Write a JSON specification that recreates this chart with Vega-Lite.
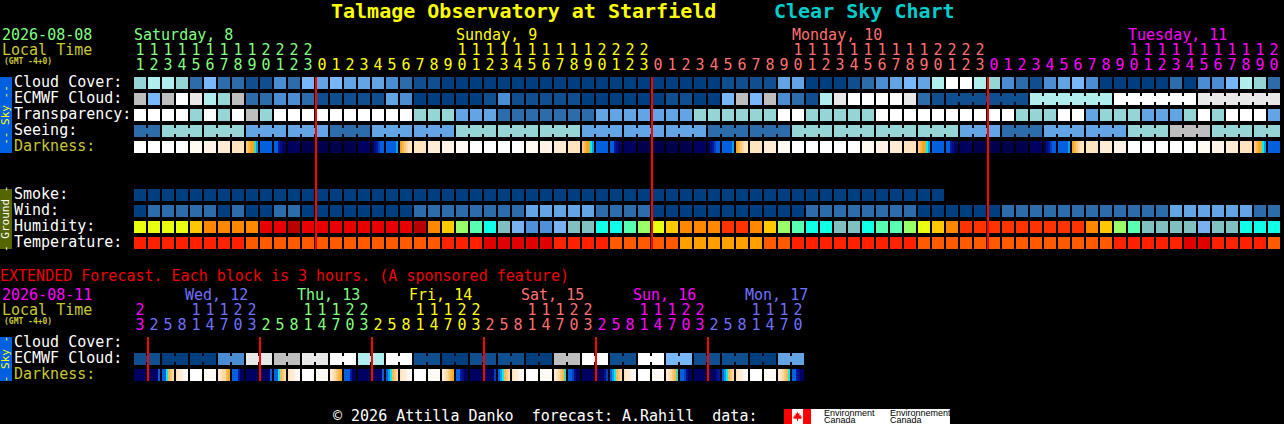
{
"$schema":"https://vega.github.io/schema/vega-lite/v6.json",
"background":"#000000",
"width":1146,"height":424,
"autosize":{"type":"none"},
"padding":{"left":134,"top":0,"right":4,"bottom":0},
"config":{"view":{"stroke":null},"axis":{"disable":true},"legend":{"disable":true},"text":{"font":"DejaVu Sans Mono","fontSize":15,"baseline":"middle"}},
"datasets":{
"cells":[
{"row":"cloud","col":0,"level":"c6"},{"row":"cloud","col":1,"level":"c7"},{"row":"cloud","col":2,"level":"c7"},{"row":"cloud","col":3,"level":"c6"},{"row":"cloud","col":4,"level":"c2"},{"row":"cloud","col":5,"level":"c5"},{"row":"cloud","col":6,"level":"c2"},{"row":"cloud","col":7,"level":"c2"},{"row":"cloud","col":8,"level":"c1"},{"row":"cloud","col":9,"level":"c1"},{"row":"cloud","col":10,"level":"c3"},{"row":"cloud","col":11,"level":"c2"},{"row":"cloud","col":12,"level":"c5"},{"row":"cloud","col":13,"level":"c4"},{"row":"cloud","col":14,"level":"c5"},{"row":"cloud","col":15,"level":"c4"},{"row":"cloud","col":16,"level":"c4"},{"row":"cloud","col":17,"level":"c4"},{"row":"cloud","col":18,"level":"c3"},{"row":"cloud","col":19,"level":"c2"},{"row":"cloud","col":20,"level":"c1"},{"row":"cloud","col":21,"level":"c1"},{"row":"cloud","col":22,"level":"c0"},{"row":"cloud","col":23,"level":"c0"},{"row":"cloud","col":24,"level":"c0"},{"row":"cloud","col":25,"level":"c0"},{"row":"cloud","col":26,"level":"c0"},{"row":"cloud","col":27,"level":"c0"},{"row":"cloud","col":28,"level":"c0"},{"row":"cloud","col":29,"level":"c0"},{"row":"cloud","col":30,"level":"c0"},{"row":"cloud","col":31,"level":"c0"},{"row":"cloud","col":32,"level":"c0"},{"row":"cloud","col":33,"level":"c0"},{"row":"cloud","col":34,"level":"c0"},{"row":"cloud","col":35,"level":"c0"},{"row":"cloud","col":36,"level":"c0"},{"row":"cloud","col":37,"level":"c0"},{"row":"cloud","col":38,"level":"c0"},{"row":"cloud","col":39,"level":"c0"},{"row":"cloud","col":40,"level":"c0"},{"row":"cloud","col":41,"level":"c0"},{"row":"cloud","col":42,"level":"c1"},{"row":"cloud","col":43,"level":"c1"},{"row":"cloud","col":44,"level":"c1"},{"row":"cloud","col":45,"level":"c1"},{"row":"cloud","col":46,"level":"c4"},{"row":"cloud","col":47,"level":"c4"},{"row":"cloud","col":48,"level":"c0"},{"row":"cloud","col":49,"level":"c0"},{"row":"cloud","col":50,"level":"c0"},{"row":"cloud","col":51,"level":"c1"},{"row":"cloud","col":52,"level":"c2"},{"row":"cloud","col":53,"level":"c3"},{"row":"cloud","col":54,"level":"c4"},{"row":"cloud","col":55,"level":"c5"},{"row":"cloud","col":56,"level":"c4"},{"row":"cloud","col":57,"level":"c7"},{"row":"cloud","col":58,"level":"c10"},{"row":"cloud","col":59,"level":"c10"},{"row":"cloud","col":60,"level":"c7"},{"row":"cloud","col":61,"level":"c6"},{"row":"cloud","col":62,"level":"c3"},{"row":"cloud","col":63,"level":"c2"},{"row":"cloud","col":64,"level":"c1"},{"row":"cloud","col":65,"level":"c3"},{"row":"cloud","col":66,"level":"c4"},{"row":"cloud","col":67,"level":"c5"},{"row":"cloud","col":68,"level":"c3"},{"row":"cloud","col":69,"level":"c0"},{"row":"cloud","col":70,"level":"c0"},{"row":"cloud","col":71,"level":"c0"},{"row":"cloud","col":72,"level":"c0"},{"row":"cloud","col":73,"level":"c0"},{"row":"cloud","col":74,"level":"c2"},{"row":"cloud","col":75,"level":"c0"},{"row":"cloud","col":76,"level":"c3"},{"row":"cloud","col":77,"level":"c3"},{"row":"cloud","col":78,"level":"c5"},{"row":"cloud","col":79,"level":"c7"},{"row":"cloud","col":80,"level":"c6"},{"row":"cloud","col":81,"level":"c2"},
{"row":"ecmwf","col":0,"level":"c8"},{"row":"ecmwf","col":1,"level":"c5"},{"row":"ecmwf","col":2,"level":"c8"},{"row":"ecmwf","col":3,"level":"c10"},{"row":"ecmwf","col":4,"level":"c9"},{"row":"ecmwf","col":5,"level":"c7"},{"row":"ecmwf","col":6,"level":"c6"},{"row":"ecmwf","col":7,"level":"c8"},{"row":"ecmwf","col":8,"level":"c2"},{"row":"ecmwf","col":9,"level":"c2"},{"row":"ecmwf","col":10,"level":"c3"},{"row":"ecmwf","col":11,"level":"c3"},{"row":"ecmwf","col":12,"level":"c2"},{"row":"ecmwf","col":13,"level":"c1"},{"row":"ecmwf","col":14,"level":"c1"},{"row":"ecmwf","col":15,"level":"c1"},{"row":"ecmwf","col":16,"level":"c1"},{"row":"ecmwf","col":17,"level":"c1"},{"row":"ecmwf","col":18,"level":"c4"},{"row":"ecmwf","col":19,"level":"c3"},{"row":"ecmwf","col":20,"level":"c0"},{"row":"ecmwf","col":21,"level":"c0"},{"row":"ecmwf","col":22,"level":"c0"},{"row":"ecmwf","col":23,"level":"c0"},{"row":"ecmwf","col":24,"level":"c0"},{"row":"ecmwf","col":25,"level":"c1"},{"row":"ecmwf","col":26,"level":"c3"},{"row":"ecmwf","col":27,"level":"c1"},{"row":"ecmwf","col":28,"level":"c1"},{"row":"ecmwf","col":29,"level":"c1"},{"row":"ecmwf","col":30,"level":"c1"},{"row":"ecmwf","col":31,"level":"c1"},{"row":"ecmwf","col":32,"level":"c0"},{"row":"ecmwf","col":33,"level":"c0"},{"row":"ecmwf","col":34,"level":"c0"},{"row":"ecmwf","col":35,"level":"c0"},{"row":"ecmwf","col":36,"level":"c0"},{"row":"ecmwf","col":37,"level":"c0"},{"row":"ecmwf","col":38,"level":"c1"},{"row":"ecmwf","col":39,"level":"c1"},{"row":"ecmwf","col":40,"level":"c0"},{"row":"ecmwf","col":41,"level":"c0"},{"row":"ecmwf","col":42,"level":"c5"},{"row":"ecmwf","col":43,"level":"c8"},{"row":"ecmwf","col":44,"level":"c5"},{"row":"ecmwf","col":45,"level":"c8"},{"row":"ecmwf","col":46,"level":"c3"},{"row":"ecmwf","col":47,"level":"c2"},{"row":"ecmwf","col":48,"level":"c1"},{"row":"ecmwf","col":49,"level":"c7"},{"row":"ecmwf","col":50,"level":"c9"},{"row":"ecmwf","col":51,"level":"c10"},{"row":"ecmwf","col":52,"level":"c10"},{"row":"ecmwf","col":53,"level":"c10"},{"row":"ecmwf","col":54,"level":"c10"},{"row":"ecmwf","col":55,"level":"c9"},{"row":"ecmwf","col":56,"level":"c2"},{"row":"ecmwf","col":57,"level":"c1"},{"row":"ecmwf","col":58,"level":"c1"},{"row":"ecmwf","col":59,"level":"c1"},{"row":"ecmwf","col":60,"level":"c1"},{"row":"ecmwf","col":61,"level":"c1"},{"row":"ecmwf","col":62,"level":"c1"},{"row":"ecmwf","col":63,"level":"c1"},{"row":"ecmwf","col":64,"level":"c7"},{"row":"ecmwf","col":65,"level":"c7"},{"row":"ecmwf","col":66,"level":"c7"},{"row":"ecmwf","col":67,"level":"c7"},{"row":"ecmwf","col":68,"level":"c7"},{"row":"ecmwf","col":69,"level":"c7"},{"row":"ecmwf","col":70,"level":"c10"},{"row":"ecmwf","col":71,"level":"c10"},{"row":"ecmwf","col":72,"level":"c10"},{"row":"ecmwf","col":73,"level":"c10"},{"row":"ecmwf","col":74,"level":"c10"},{"row":"ecmwf","col":75,"level":"c10"},{"row":"ecmwf","col":76,"level":"c9"},{"row":"ecmwf","col":77,"level":"c9"},{"row":"ecmwf","col":78,"level":"c9"},{"row":"ecmwf","col":79,"level":"c9"},{"row":"ecmwf","col":80,"level":"c9"},{"row":"ecmwf","col":81,"level":"c9"},
{"row":"transp","col":0,"level":"c10"},{"row":"transp","col":1,"level":"c10"},{"row":"transp","col":2,"level":"c10"},{"row":"transp","col":3,"level":"c10"},{"row":"transp","col":4,"level":"c6"},{"row":"transp","col":5,"level":"c10"},{"row":"transp","col":6,"level":"c6"},{"row":"transp","col":7,"level":"c10"},{"row":"transp","col":8,"level":"c8"},{"row":"transp","col":9,"level":"c6"},{"row":"transp","col":10,"level":"c10"},{"row":"transp","col":11,"level":"c10"},{"row":"transp","col":12,"level":"c10"},{"row":"transp","col":13,"level":"c10"},{"row":"transp","col":14,"level":"c10"},{"row":"transp","col":15,"level":"c10"},{"row":"transp","col":16,"level":"c10"},{"row":"transp","col":17,"level":"c10"},{"row":"transp","col":18,"level":"c10"},{"row":"transp","col":19,"level":"c10"},{"row":"transp","col":20,"level":"c6"},{"row":"transp","col":21,"level":"c6"},{"row":"transp","col":22,"level":"c6"},{"row":"transp","col":23,"level":"c4"},{"row":"transp","col":24,"level":"c4"},{"row":"transp","col":25,"level":"c4"},{"row":"transp","col":26,"level":"c2"},{"row":"transp","col":27,"level":"c2"},{"row":"transp","col":28,"level":"c2"},{"row":"transp","col":29,"level":"c2"},{"row":"transp","col":30,"level":"c2"},{"row":"transp","col":31,"level":"c2"},{"row":"transp","col":32,"level":"c2"},{"row":"transp","col":33,"level":"c4"},{"row":"transp","col":34,"level":"c4"},{"row":"transp","col":35,"level":"c4"},{"row":"transp","col":36,"level":"c4"},{"row":"transp","col":37,"level":"c4"},{"row":"transp","col":38,"level":"c4"},{"row":"transp","col":39,"level":"c4"},{"row":"transp","col":40,"level":"c6"},{"row":"transp","col":41,"level":"c6"},{"row":"transp","col":42,"level":"c6"},{"row":"transp","col":43,"level":"c6"},{"row":"transp","col":44,"level":"c6"},{"row":"transp","col":45,"level":"c6"},{"row":"transp","col":46,"level":"c10"},{"row":"transp","col":47,"level":"c10"},{"row":"transp","col":48,"level":"c6"},{"row":"transp","col":49,"level":"c6"},{"row":"transp","col":50,"level":"c6"},{"row":"transp","col":51,"level":"c6"},{"row":"transp","col":52,"level":"c6"},{"row":"transp","col":53,"level":"c10"},{"row":"transp","col":54,"level":"c10"},{"row":"transp","col":55,"level":"c10"},{"row":"transp","col":56,"level":"c10"},{"row":"transp","col":57,"level":"c10"},{"row":"transp","col":58,"level":"c10"},{"row":"transp","col":59,"level":"c10"},{"row":"transp","col":60,"level":"c10"},{"row":"transp","col":61,"level":"c10"},{"row":"transp","col":62,"level":"c10"},{"row":"transp","col":63,"level":"c6"},{"row":"transp","col":64,"level":"c6"},{"row":"transp","col":65,"level":"c6"},{"row":"transp","col":66,"level":"c10"},{"row":"transp","col":67,"level":"c10"},{"row":"transp","col":68,"level":"c4"},{"row":"transp","col":69,"level":"c6"},{"row":"transp","col":70,"level":"c6"},{"row":"transp","col":71,"level":"c6"},{"row":"transp","col":72,"level":"c4"},{"row":"transp","col":73,"level":"c4"},{"row":"transp","col":74,"level":"c4"},{"row":"transp","col":75,"level":"c6"},{"row":"transp","col":76,"level":"c10"},{"row":"transp","col":77,"level":"c6"},{"row":"transp","col":78,"level":"c10"},{"row":"transp","col":79,"level":"c10"},{"row":"transp","col":80,"level":"c10"},{"row":"transp","col":81,"level":"c4"},
{"row":"seeing","col":0,"level":"c2"},{"row":"seeing","col":1,"level":"c2"},{"row":"seeing","col":2,"level":"c6"},{"row":"seeing","col":3,"level":"c6"},{"row":"seeing","col":4,"level":"c6"},{"row":"seeing","col":5,"level":"c6"},{"row":"seeing","col":6,"level":"c6"},{"row":"seeing","col":7,"level":"c6"},{"row":"seeing","col":8,"level":"c4"},{"row":"seeing","col":9,"level":"c4"},{"row":"seeing","col":10,"level":"c4"},{"row":"seeing","col":11,"level":"c4"},{"row":"seeing","col":12,"level":"c4"},{"row":"seeing","col":13,"level":"c4"},{"row":"seeing","col":14,"level":"c2"},{"row":"seeing","col":15,"level":"c2"},{"row":"seeing","col":16,"level":"c2"},{"row":"seeing","col":17,"level":"c4"},{"row":"seeing","col":18,"level":"c4"},{"row":"seeing","col":19,"level":"c4"},{"row":"seeing","col":20,"level":"c4"},{"row":"seeing","col":21,"level":"c4"},{"row":"seeing","col":22,"level":"c4"},{"row":"seeing","col":23,"level":"c6"},{"row":"seeing","col":24,"level":"c6"},{"row":"seeing","col":25,"level":"c6"},{"row":"seeing","col":26,"level":"c6"},{"row":"seeing","col":27,"level":"c6"},{"row":"seeing","col":28,"level":"c6"},{"row":"seeing","col":29,"level":"c6"},{"row":"seeing","col":30,"level":"c6"},{"row":"seeing","col":31,"level":"c6"},{"row":"seeing","col":32,"level":"c4"},{"row":"seeing","col":33,"level":"c4"},{"row":"seeing","col":34,"level":"c4"},{"row":"seeing","col":35,"level":"c4"},{"row":"seeing","col":36,"level":"c4"},{"row":"seeing","col":37,"level":"c4"},{"row":"seeing","col":38,"level":"c4"},{"row":"seeing","col":39,"level":"c4"},{"row":"seeing","col":40,"level":"c4"},{"row":"seeing","col":41,"level":"c2"},{"row":"seeing","col":42,"level":"c2"},{"row":"seeing","col":43,"level":"c2"},{"row":"seeing","col":44,"level":"c2"},{"row":"seeing","col":45,"level":"c2"},{"row":"seeing","col":46,"level":"c2"},{"row":"seeing","col":47,"level":"c6"},{"row":"seeing","col":48,"level":"c6"},{"row":"seeing","col":49,"level":"c6"},{"row":"seeing","col":50,"level":"c6"},{"row":"seeing","col":51,"level":"c6"},{"row":"seeing","col":52,"level":"c6"},{"row":"seeing","col":53,"level":"c6"},{"row":"seeing","col":54,"level":"c6"},{"row":"seeing","col":55,"level":"c6"},{"row":"seeing","col":56,"level":"c6"},{"row":"seeing","col":57,"level":"c6"},{"row":"seeing","col":58,"level":"c6"},{"row":"seeing","col":59,"level":"c4"},{"row":"seeing","col":60,"level":"c4"},{"row":"seeing","col":61,"level":"c4"},{"row":"seeing","col":62,"level":"c2"},{"row":"seeing","col":63,"level":"c2"},{"row":"seeing","col":64,"level":"c2"},{"row":"seeing","col":65,"level":"c4"},{"row":"seeing","col":66,"level":"c4"},{"row":"seeing","col":67,"level":"c4"},{"row":"seeing","col":68,"level":"c4"},{"row":"seeing","col":69,"level":"c4"},{"row":"seeing","col":70,"level":"c4"},{"row":"seeing","col":71,"level":"c6"},{"row":"seeing","col":72,"level":"c6"},{"row":"seeing","col":73,"level":"c6"},{"row":"seeing","col":74,"level":"c8"},{"row":"seeing","col":75,"level":"c8"},{"row":"seeing","col":76,"level":"c8"},{"row":"seeing","col":77,"level":"c6"},{"row":"seeing","col":78,"level":"c6"},{"row":"seeing","col":79,"level":"c6"},{"row":"seeing","col":80,"level":"c6"},{"row":"seeing","col":81,"level":"c6"},
{"row":"dark","col":0,"level":"k0"},{"row":"dark","col":1,"level":"k0"},{"row":"dark","col":2,"level":"k0"},{"row":"dark","col":3,"level":"k0"},{"row":"dark","col":4,"level":"k1"},{"row":"dark","col":5,"level":"k2"},{"row":"dark","col":6,"level":"k3"},{"row":"dark","col":7,"level":"k4"},{"row":"dark","col":9,"level":"k12"},{"row":"dark","col":11,"level":"k16"},{"row":"dark","col":12,"level":"k17"},{"row":"dark","col":13,"level":"k17"},{"row":"dark","col":14,"level":"k17"},{"row":"dark","col":15,"level":"k17"},{"row":"dark","col":16,"level":"k16"},{"row":"dark","col":20,"level":"k4"},{"row":"dark","col":21,"level":"k3"},{"row":"dark","col":22,"level":"k2"},{"row":"dark","col":23,"level":"k1"},{"row":"dark","col":24,"level":"k0"},{"row":"dark","col":25,"level":"k0"},{"row":"dark","col":26,"level":"k0"},{"row":"dark","col":27,"level":"k0"},{"row":"dark","col":28,"level":"k1"},{"row":"dark","col":29,"level":"k2"},{"row":"dark","col":30,"level":"k3"},{"row":"dark","col":31,"level":"k4"},{"row":"dark","col":33,"level":"k12"},{"row":"dark","col":35,"level":"k16"},{"row":"dark","col":36,"level":"k17"},{"row":"dark","col":37,"level":"k17"},{"row":"dark","col":38,"level":"k17"},{"row":"dark","col":39,"level":"k17"},{"row":"dark","col":40,"level":"k16"},{"row":"dark","col":44,"level":"k4"},{"row":"dark","col":45,"level":"k3"},{"row":"dark","col":46,"level":"k1"},{"row":"dark","col":47,"level":"k0"},{"row":"dark","col":48,"level":"k0"},{"row":"dark","col":49,"level":"k0"},{"row":"dark","col":50,"level":"k0"},{"row":"dark","col":51,"level":"k0"},{"row":"dark","col":52,"level":"k1"},{"row":"dark","col":53,"level":"k2"},{"row":"dark","col":54,"level":"k3"},{"row":"dark","col":55,"level":"k4"},{"row":"dark","col":57,"level":"k12"},{"row":"dark","col":59,"level":"k16"},{"row":"dark","col":60,"level":"k17"},{"row":"dark","col":61,"level":"k17"},{"row":"dark","col":62,"level":"k17"},{"row":"dark","col":63,"level":"k17"},{"row":"dark","col":64,"level":"k16"},{"row":"dark","col":68,"level":"k4"},{"row":"dark","col":69,"level":"k3"},{"row":"dark","col":70,"level":"k2"},{"row":"dark","col":71,"level":"k0"},{"row":"dark","col":72,"level":"k0"},{"row":"dark","col":73,"level":"k0"},{"row":"dark","col":74,"level":"k0"},{"row":"dark","col":75,"level":"k0"},{"row":"dark","col":76,"level":"k1"},{"row":"dark","col":77,"level":"k2"},{"row":"dark","col":78,"level":"k3"},{"row":"dark","col":79,"level":"k4"},{"row":"dark","col":81,"level":"k12"},
{"row":"smoke","col":0,"level":"c0"},{"row":"smoke","col":1,"level":"c0"},{"row":"smoke","col":2,"level":"c0"},{"row":"smoke","col":3,"level":"c0"},{"row":"smoke","col":4,"level":"c0"},{"row":"smoke","col":5,"level":"c0"},{"row":"smoke","col":6,"level":"c0"},{"row":"smoke","col":7,"level":"c0"},{"row":"smoke","col":8,"level":"c0"},{"row":"smoke","col":9,"level":"c0"},{"row":"smoke","col":10,"level":"c0"},{"row":"smoke","col":11,"level":"c0"},{"row":"smoke","col":12,"level":"c0"},{"row":"smoke","col":13,"level":"c0"},{"row":"smoke","col":14,"level":"c0"},{"row":"smoke","col":15,"level":"c0"},{"row":"smoke","col":16,"level":"c0"},{"row":"smoke","col":17,"level":"c0"},{"row":"smoke","col":18,"level":"c0"},{"row":"smoke","col":19,"level":"c0"},{"row":"smoke","col":20,"level":"c0"},{"row":"smoke","col":21,"level":"c0"},{"row":"smoke","col":22,"level":"c0"},{"row":"smoke","col":23,"level":"c0"},{"row":"smoke","col":24,"level":"c0"},{"row":"smoke","col":25,"level":"c0"},{"row":"smoke","col":26,"level":"c0"},{"row":"smoke","col":27,"level":"c0"},{"row":"smoke","col":28,"level":"c0"},{"row":"smoke","col":29,"level":"c0"},{"row":"smoke","col":30,"level":"c0"},{"row":"smoke","col":31,"level":"c0"},{"row":"smoke","col":32,"level":"c0"},{"row":"smoke","col":33,"level":"c0"},{"row":"smoke","col":34,"level":"c0"},{"row":"smoke","col":35,"level":"c0"},{"row":"smoke","col":36,"level":"c0"},{"row":"smoke","col":37,"level":"c0"},{"row":"smoke","col":38,"level":"c0"},{"row":"smoke","col":39,"level":"c0"},{"row":"smoke","col":40,"level":"c0"},{"row":"smoke","col":41,"level":"c0"},{"row":"smoke","col":42,"level":"c0"},{"row":"smoke","col":43,"level":"c0"},{"row":"smoke","col":44,"level":"c0"},{"row":"smoke","col":45,"level":"c0"},{"row":"smoke","col":46,"level":"c0"},{"row":"smoke","col":47,"level":"c0"},{"row":"smoke","col":48,"level":"c0"},{"row":"smoke","col":49,"level":"c0"},{"row":"smoke","col":50,"level":"c0"},{"row":"smoke","col":51,"level":"c0"},{"row":"smoke","col":52,"level":"c0"},{"row":"smoke","col":53,"level":"c0"},{"row":"smoke","col":54,"level":"c0"},{"row":"smoke","col":55,"level":"c0"},{"row":"smoke","col":56,"level":"c0"},{"row":"smoke","col":57,"level":"c0"},
{"row":"wind","col":0,"level":"c0"},{"row":"wind","col":1,"level":"c2"},{"row":"wind","col":2,"level":"c2"},{"row":"wind","col":3,"level":"c2"},{"row":"wind","col":4,"level":"c2"},{"row":"wind","col":5,"level":"c2"},{"row":"wind","col":6,"level":"c0"},{"row":"wind","col":7,"level":"c2"},{"row":"wind","col":8,"level":"c0"},{"row":"wind","col":9,"level":"c0"},{"row":"wind","col":10,"level":"c2"},{"row":"wind","col":11,"level":"c2"},{"row":"wind","col":12,"level":"c0"},{"row":"wind","col":13,"level":"c0"},{"row":"wind","col":14,"level":"c0"},{"row":"wind","col":15,"level":"c0"},{"row":"wind","col":16,"level":"c0"},{"row":"wind","col":17,"level":"c0"},{"row":"wind","col":18,"level":"c0"},{"row":"wind","col":19,"level":"c0"},{"row":"wind","col":20,"level":"c2"},{"row":"wind","col":21,"level":"c2"},{"row":"wind","col":22,"level":"c2"},{"row":"wind","col":23,"level":"c2"},{"row":"wind","col":24,"level":"c2"},{"row":"wind","col":25,"level":"c2"},{"row":"wind","col":26,"level":"c2"},{"row":"wind","col":27,"level":"c2"},{"row":"wind","col":28,"level":"c4"},{"row":"wind","col":29,"level":"c4"},{"row":"wind","col":30,"level":"c4"},{"row":"wind","col":31,"level":"c4"},{"row":"wind","col":32,"level":"c4"},{"row":"wind","col":33,"level":"c2"},{"row":"wind","col":34,"level":"c2"},{"row":"wind","col":35,"level":"c2"},{"row":"wind","col":36,"level":"c2"},{"row":"wind","col":37,"level":"c0"},{"row":"wind","col":38,"level":"c0"},{"row":"wind","col":39,"level":"c0"},{"row":"wind","col":40,"level":"c0"},{"row":"wind","col":41,"level":"c0"},{"row":"wind","col":42,"level":"c0"},{"row":"wind","col":43,"level":"c0"},{"row":"wind","col":44,"level":"c0"},{"row":"wind","col":45,"level":"c0"},{"row":"wind","col":46,"level":"c0"},{"row":"wind","col":47,"level":"c0"},{"row":"wind","col":48,"level":"c2"},{"row":"wind","col":49,"level":"c2"},{"row":"wind","col":50,"level":"c2"},{"row":"wind","col":51,"level":"c2"},{"row":"wind","col":52,"level":"c2"},{"row":"wind","col":53,"level":"c2"},{"row":"wind","col":54,"level":"c2"},{"row":"wind","col":55,"level":"c2"},{"row":"wind","col":56,"level":"c0"},{"row":"wind","col":57,"level":"c0"},{"row":"wind","col":58,"level":"c0"},{"row":"wind","col":59,"level":"c0"},{"row":"wind","col":60,"level":"c0"},{"row":"wind","col":61,"level":"c0"},{"row":"wind","col":62,"level":"c2"},{"row":"wind","col":63,"level":"c2"},{"row":"wind","col":64,"level":"c2"},{"row":"wind","col":65,"level":"c2"},{"row":"wind","col":66,"level":"c2"},{"row":"wind","col":67,"level":"c2"},{"row":"wind","col":68,"level":"c2"},{"row":"wind","col":69,"level":"c2"},{"row":"wind","col":70,"level":"c2"},{"row":"wind","col":71,"level":"c2"},{"row":"wind","col":72,"level":"c2"},{"row":"wind","col":73,"level":"c2"},{"row":"wind","col":74,"level":"c4"},{"row":"wind","col":75,"level":"c4"},{"row":"wind","col":76,"level":"c4"},{"row":"wind","col":77,"level":"c4"},{"row":"wind","col":78,"level":"c4"},{"row":"wind","col":79,"level":"c4"},{"row":"wind","col":80,"level":"c2"},{"row":"wind","col":81,"level":"c2"},
{"row":"hum","col":0,"level":"hey"},{"row":"hum","col":1,"level":"hey"},{"row":"hum","col":2,"level":"hey"},{"row":"hum","col":3,"level":"hey"},{"row":"hum","col":4,"level":"ham"},{"row":"hum","col":5,"level":"hor"},{"row":"hum","col":6,"level":"hor"},{"row":"hum","col":7,"level":"hor"},{"row":"hum","col":8,"level":"hor"},{"row":"hum","col":9,"level":"hrd"},{"row":"hum","col":10,"level":"hrd"},{"row":"hum","col":11,"level":"hdr"},{"row":"hum","col":12,"level":"hrd"},{"row":"hum","col":13,"level":"hrd"},{"row":"hum","col":14,"level":"hrd"},{"row":"hum","col":15,"level":"hrd"},{"row":"hum","col":16,"level":"hrd"},{"row":"hum","col":17,"level":"hrd"},{"row":"hum","col":18,"level":"hrd"},{"row":"hum","col":19,"level":"hrd"},{"row":"hum","col":20,"level":"hdr"},{"row":"hum","col":21,"level":"hor"},{"row":"hum","col":22,"level":"ham"},{"row":"hum","col":23,"level":"hlg"},{"row":"hum","col":24,"level":"hmt"},{"row":"hum","col":25,"level":"haq"},{"row":"hum","col":26,"level":"hst"},{"row":"hum","col":27,"level":"hnb"},{"row":"hum","col":28,"level":"hbl"},{"row":"hum","col":29,"level":"hbl"},{"row":"hum","col":30,"level":"hnb"},{"row":"hum","col":31,"level":"hst"},{"row":"hum","col":32,"level":"hst"},{"row":"hum","col":33,"level":"haq"},{"row":"hum","col":34,"level":"haq"},{"row":"hum","col":35,"level":"hmt"},{"row":"hum","col":36,"level":"hlg"},{"row":"hum","col":37,"level":"hey"},{"row":"hum","col":38,"level":"ham"},{"row":"hum","col":39,"level":"hor"},{"row":"hum","col":40,"level":"hor"},{"row":"hum","col":41,"level":"hor"},{"row":"hum","col":42,"level":"hro"},{"row":"hum","col":43,"level":"hro"},{"row":"hum","col":44,"level":"hor"},{"row":"hum","col":45,"level":"ham"},{"row":"hum","col":46,"level":"hlg"},{"row":"hum","col":47,"level":"hmt"},{"row":"hum","col":48,"level":"haq"},{"row":"hum","col":49,"level":"haq"},{"row":"hum","col":50,"level":"hst"},{"row":"hum","col":51,"level":"hst"},{"row":"hum","col":52,"level":"haq"},{"row":"hum","col":53,"level":"hmt"},{"row":"hum","col":54,"level":"hmt"},{"row":"hum","col":55,"level":"hlg"},{"row":"hum","col":56,"level":"hey"},{"row":"hum","col":57,"level":"ham"},{"row":"hum","col":58,"level":"hor"},{"row":"hum","col":59,"level":"hro"},{"row":"hum","col":60,"level":"hro"},{"row":"hum","col":61,"level":"hro"},{"row":"hum","col":62,"level":"hro"},{"row":"hum","col":63,"level":"hro"},{"row":"hum","col":64,"level":"hro"},{"row":"hum","col":65,"level":"hro"},{"row":"hum","col":66,"level":"hro"},{"row":"hum","col":67,"level":"hro"},{"row":"hum","col":68,"level":"hor"},{"row":"hum","col":69,"level":"ham"},{"row":"hum","col":70,"level":"hlg"},{"row":"hum","col":71,"level":"hmt"},{"row":"hum","col":72,"level":"hst"},{"row":"hum","col":73,"level":"hst"},{"row":"hum","col":74,"level":"hst"},{"row":"hum","col":75,"level":"hst"},{"row":"hum","col":76,"level":"hnb"},{"row":"hum","col":77,"level":"hst"},{"row":"hum","col":78,"level":"hst"},{"row":"hum","col":79,"level":"haq"},{"row":"hum","col":80,"level":"haq"},{"row":"hum","col":81,"level":"haq"},
{"row":"temp","col":0,"level":"t1"},{"row":"temp","col":1,"level":"t1"},{"row":"temp","col":2,"level":"t1"},{"row":"temp","col":3,"level":"t1"},{"row":"temp","col":4,"level":"t1"},{"row":"temp","col":5,"level":"t1"},{"row":"temp","col":6,"level":"t1"},{"row":"temp","col":7,"level":"t1"},{"row":"temp","col":8,"level":"t2"},{"row":"temp","col":9,"level":"t2"},{"row":"temp","col":10,"level":"t2"},{"row":"temp","col":11,"level":"t2"},{"row":"temp","col":12,"level":"t2"},{"row":"temp","col":13,"level":"t2"},{"row":"temp","col":14,"level":"t2"},{"row":"temp","col":15,"level":"t2"},{"row":"temp","col":16,"level":"t2"},{"row":"temp","col":17,"level":"t2"},{"row":"temp","col":18,"level":"t2"},{"row":"temp","col":19,"level":"t2"},{"row":"temp","col":20,"level":"t2"},{"row":"temp","col":21,"level":"t2"},{"row":"temp","col":22,"level":"t1"},{"row":"temp","col":23,"level":"t1"},{"row":"temp","col":24,"level":"t1"},{"row":"temp","col":25,"level":"t0"},{"row":"temp","col":26,"level":"t0"},{"row":"temp","col":27,"level":"t0"},{"row":"temp","col":28,"level":"t0"},{"row":"temp","col":29,"level":"t0"},{"row":"temp","col":30,"level":"t1"},{"row":"temp","col":31,"level":"t1"},{"row":"temp","col":32,"level":"t1"},{"row":"temp","col":33,"level":"t1"},{"row":"temp","col":34,"level":"t2"},{"row":"temp","col":35,"level":"t2"},{"row":"temp","col":36,"level":"t2"},{"row":"temp","col":37,"level":"t2"},{"row":"temp","col":38,"level":"t2"},{"row":"temp","col":39,"level":"t3"},{"row":"temp","col":40,"level":"t3"},{"row":"temp","col":41,"level":"t3"},{"row":"temp","col":42,"level":"t3"},{"row":"temp","col":43,"level":"t3"},{"row":"temp","col":44,"level":"t3"},{"row":"temp","col":45,"level":"t2"},{"row":"temp","col":46,"level":"t2"},{"row":"temp","col":47,"level":"t1"},{"row":"temp","col":48,"level":"t1"},{"row":"temp","col":49,"level":"t1"},{"row":"temp","col":50,"level":"t1"},{"row":"temp","col":51,"level":"t1"},{"row":"temp","col":52,"level":"t1"},{"row":"temp","col":53,"level":"t1"},{"row":"temp","col":54,"level":"t1"},{"row":"temp","col":55,"level":"t1"},{"row":"temp","col":56,"level":"t2"},{"row":"temp","col":57,"level":"t2"},{"row":"temp","col":58,"level":"t2"},{"row":"temp","col":59,"level":"t2"},{"row":"temp","col":60,"level":"t2"},{"row":"temp","col":61,"level":"t2"},{"row":"temp","col":62,"level":"t2"},{"row":"temp","col":63,"level":"t2"},{"row":"temp","col":64,"level":"t2"},{"row":"temp","col":65,"level":"t2"},{"row":"temp","col":66,"level":"t2"},{"row":"temp","col":67,"level":"t2"},{"row":"temp","col":68,"level":"t2"},{"row":"temp","col":69,"level":"t2"},{"row":"temp","col":70,"level":"t1"},{"row":"temp","col":71,"level":"t1"},{"row":"temp","col":72,"level":"t1"},{"row":"temp","col":73,"level":"t1"},{"row":"temp","col":74,"level":"t1"},{"row":"temp","col":75,"level":"t0"},{"row":"temp","col":76,"level":"t0"},{"row":"temp","col":77,"level":"t1"},{"row":"temp","col":78,"level":"t1"},{"row":"temp","col":79,"level":"t1"},{"row":"temp","col":80,"level":"t1"},{"row":"temp","col":81,"level":"t2"}
],
"blocks":[
{"row":"seeing","col":0,"end":1,"level":"c2"},{"row":"seeing","col":2,"end":4,"level":"c6"},{"row":"seeing","col":5,"end":7,"level":"c6"},{"row":"seeing","col":8,"end":10,"level":"c4"},{"row":"seeing","col":11,"end":13,"level":"c4"},{"row":"seeing","col":14,"end":16,"level":"c2"},{"row":"seeing","col":17,"end":19,"level":"c4"},{"row":"seeing","col":20,"end":22,"level":"c4"},{"row":"seeing","col":23,"end":25,"level":"c6"},{"row":"seeing","col":26,"end":28,"level":"c6"},{"row":"seeing","col":29,"end":31,"level":"c6"},{"row":"seeing","col":32,"end":34,"level":"c4"},{"row":"seeing","col":35,"end":37,"level":"c4"},{"row":"seeing","col":38,"end":40,"level":"c4"},{"row":"seeing","col":41,"end":43,"level":"c2"},{"row":"seeing","col":44,"end":46,"level":"c2"},{"row":"seeing","col":47,"end":49,"level":"c6"},{"row":"seeing","col":50,"end":52,"level":"c6"},{"row":"seeing","col":53,"end":55,"level":"c6"},{"row":"seeing","col":56,"end":58,"level":"c6"},{"row":"seeing","col":59,"end":61,"level":"c4"},{"row":"seeing","col":62,"end":64,"level":"c2"},{"row":"seeing","col":65,"end":67,"level":"c4"},{"row":"seeing","col":68,"end":70,"level":"c4"},{"row":"seeing","col":71,"end":73,"level":"c6"},{"row":"seeing","col":74,"end":76,"level":"c8"},{"row":"seeing","col":77,"end":79,"level":"c6"},{"row":"seeing","col":80,"end":81,"level":"c6"},
{"row":"ecmwf","col":58,"end":63,"level":"c1"},{"row":"ecmwf","col":64,"end":69,"level":"c7"},{"row":"ecmwf","col":70,"end":75,"level":"c10"},{"row":"ecmwf","col":76,"end":81,"level":"c9"}
],
"slices":[
{"col":8,"slice":0,"level":"k6"},{"col":8,"slice":1,"level":"k7"},{"col":8,"slice":2,"level":"k8"},{"col":8,"slice":3,"level":"k8"},{"col":8,"slice":4,"level":"k9"},{"col":8,"slice":5,"level":"k11"},
{"col":10,"slice":0,"level":"k12"},{"col":10,"slice":1,"level":"k12"},{"col":10,"slice":2,"level":"k14"},{"col":10,"slice":3,"level":"k15"},{"col":10,"slice":4,"level":"k16"},{"col":10,"slice":5,"level":"k16"},
{"col":17,"slice":0,"level":"k16"},{"col":17,"slice":1,"level":"k15"},{"col":17,"slice":2,"level":"k14"},{"col":17,"slice":3,"level":"k13"},{"col":17,"slice":4,"level":"k12"},{"col":17,"slice":5,"level":"k12"},
{"col":18,"slice":0,"level":"k12"},{"col":18,"slice":1,"level":"k12"},{"col":18,"slice":2,"level":"k12"},{"col":18,"slice":3,"level":"k12"},{"col":18,"slice":4,"level":"k12"},{"col":18,"slice":5,"level":"k11"},
{"col":19,"slice":0,"level":"k8"},{"col":19,"slice":1,"level":"k7"},{"col":19,"slice":2,"level":"k6"},{"col":19,"slice":3,"level":"k5"},{"col":19,"slice":4,"level":"k4"},{"col":19,"slice":5,"level":"k4"},
{"col":32,"slice":0,"level":"k6"},{"col":32,"slice":1,"level":"k7"},{"col":32,"slice":2,"level":"k8"},{"col":32,"slice":3,"level":"k8"},{"col":32,"slice":4,"level":"k10"},{"col":32,"slice":5,"level":"k11"},
{"col":34,"slice":0,"level":"k12"},{"col":34,"slice":1,"level":"k12"},{"col":34,"slice":2,"level":"k14"},{"col":34,"slice":3,"level":"k15"},{"col":34,"slice":4,"level":"k16"},{"col":34,"slice":5,"level":"k16"},
{"col":41,"slice":0,"level":"k16"},{"col":41,"slice":1,"level":"k15"},{"col":41,"slice":2,"level":"k14"},{"col":41,"slice":3,"level":"k13"},{"col":41,"slice":4,"level":"k12"},{"col":41,"slice":5,"level":"k12"},
{"col":42,"slice":0,"level":"k12"},{"col":42,"slice":1,"level":"k12"},{"col":42,"slice":2,"level":"k12"},{"col":42,"slice":3,"level":"k12"},{"col":42,"slice":4,"level":"k12"},{"col":42,"slice":5,"level":"k11"},
{"col":43,"slice":0,"level":"k8"},{"col":43,"slice":1,"level":"k7"},{"col":43,"slice":2,"level":"k6"},{"col":43,"slice":3,"level":"k5"},{"col":43,"slice":4,"level":"k4"},{"col":43,"slice":5,"level":"k4"},
{"col":56,"slice":0,"level":"k6"},{"col":56,"slice":1,"level":"k7"},{"col":56,"slice":2,"level":"k8"},{"col":56,"slice":3,"level":"k8"},{"col":56,"slice":4,"level":"k10"},{"col":56,"slice":5,"level":"k11"},
{"col":58,"slice":0,"level":"k12"},{"col":58,"slice":1,"level":"k12"},{"col":58,"slice":2,"level":"k14"},{"col":58,"slice":3,"level":"k15"},{"col":58,"slice":4,"level":"k16"},{"col":58,"slice":5,"level":"k16"},
{"col":65,"slice":0,"level":"k16"},{"col":65,"slice":1,"level":"k15"},{"col":65,"slice":2,"level":"k14"},{"col":65,"slice":3,"level":"k13"},{"col":65,"slice":4,"level":"k12"},{"col":65,"slice":5,"level":"k12"},
{"col":66,"slice":0,"level":"k12"},{"col":66,"slice":1,"level":"k12"},{"col":66,"slice":2,"level":"k12"},{"col":66,"slice":3,"level":"k12"},{"col":66,"slice":4,"level":"k12"},{"col":66,"slice":5,"level":"k11"},
{"col":67,"slice":0,"level":"k8"},{"col":67,"slice":1,"level":"k7"},{"col":67,"slice":2,"level":"k6"},{"col":67,"slice":3,"level":"k5"},{"col":67,"slice":4,"level":"k4"},{"col":67,"slice":5,"level":"k4"},
{"col":80,"slice":0,"level":"k6"},{"col":80,"slice":1,"level":"k7"},{"col":80,"slice":2,"level":"k8"},{"col":80,"slice":3,"level":"k8"},{"col":80,"slice":4,"level":"k10"},{"col":80,"slice":5,"level":"k11"}
],
"extCells":[
{"row":"ecmwf","col":0,"level":"c1"},{"row":"ecmwf","col":1,"level":"c1"},{"row":"ecmwf","col":2,"level":"c0"},{"row":"ecmwf","col":3,"level":"c0"},{"row":"ecmwf","col":4,"level":"c0"},{"row":"ecmwf","col":5,"level":"c0"},{"row":"ecmwf","col":6,"level":"c3"},{"row":"ecmwf","col":7,"level":"c3"},{"row":"ecmwf","col":8,"level":"c9"},{"row":"ecmwf","col":9,"level":"c9"},{"row":"ecmwf","col":10,"level":"c8"},{"row":"ecmwf","col":11,"level":"c8"},{"row":"ecmwf","col":12,"level":"c9"},{"row":"ecmwf","col":13,"level":"c9"},{"row":"ecmwf","col":14,"level":"c10"},{"row":"ecmwf","col":15,"level":"c10"},{"row":"ecmwf","col":16,"level":"c7"},{"row":"ecmwf","col":17,"level":"c7"},{"row":"ecmwf","col":18,"level":"c10"},{"row":"ecmwf","col":19,"level":"c10"},{"row":"ecmwf","col":20,"level":"c1"},{"row":"ecmwf","col":21,"level":"c1"},{"row":"ecmwf","col":22,"level":"c0"},{"row":"ecmwf","col":23,"level":"c0"},{"row":"ecmwf","col":24,"level":"c1"},{"row":"ecmwf","col":25,"level":"c1"},{"row":"ecmwf","col":26,"level":"c1"},{"row":"ecmwf","col":27,"level":"c1"},{"row":"ecmwf","col":28,"level":"c0"},{"row":"ecmwf","col":29,"level":"c0"},{"row":"ecmwf","col":30,"level":"c8"},{"row":"ecmwf","col":31,"level":"c8"},{"row":"ecmwf","col":32,"level":"c10"},{"row":"ecmwf","col":33,"level":"c10"},{"row":"ecmwf","col":34,"level":"c1"},{"row":"ecmwf","col":35,"level":"c1"},{"row":"ecmwf","col":36,"level":"c10"},{"row":"ecmwf","col":37,"level":"c10"},{"row":"ecmwf","col":38,"level":"c5"},{"row":"ecmwf","col":39,"level":"c5"},{"row":"ecmwf","col":40,"level":"c1"},{"row":"ecmwf","col":41,"level":"c1"},{"row":"ecmwf","col":42,"level":"c1"},{"row":"ecmwf","col":43,"level":"c1"},{"row":"ecmwf","col":44,"level":"c0"},{"row":"ecmwf","col":45,"level":"c0"},{"row":"ecmwf","col":46,"level":"c4"},{"row":"ecmwf","col":47,"level":"c4"},
{"row":"dark","col":0,"level":"k16"},{"row":"dark","col":4,"level":"k0"},{"row":"dark","col":5,"level":"k1"},{"row":"dark","col":8,"level":"k16"},{"row":"dark","col":12,"level":"k0"},{"row":"dark","col":13,"level":"k1"},{"row":"dark","col":16,"level":"k16"},{"row":"dark","col":20,"level":"k0"},{"row":"dark","col":21,"level":"k1"},{"row":"dark","col":24,"level":"k16"},{"row":"dark","col":28,"level":"k0"},{"row":"dark","col":29,"level":"k1"},{"row":"dark","col":32,"level":"k16"},{"row":"dark","col":36,"level":"k0"},{"row":"dark","col":37,"level":"k1"},{"row":"dark","col":40,"level":"k16"},{"row":"dark","col":44,"level":"k0"},{"row":"dark","col":45,"level":"k1"}
],
"extBlocks":[
{"col":0,"end":1,"level":"c1"},{"col":2,"end":3,"level":"c0"},{"col":4,"end":5,"level":"c0"},{"col":6,"end":7,"level":"c3"},{"col":8,"end":9,"level":"c9"},{"col":10,"end":11,"level":"c8"},{"col":12,"end":13,"level":"c9"},{"col":14,"end":15,"level":"c10"},{"col":16,"end":17,"level":"c7"},{"col":18,"end":19,"level":"c10"},{"col":20,"end":21,"level":"c1"},{"col":22,"end":23,"level":"c0"},{"col":24,"end":25,"level":"c1"},{"col":26,"end":27,"level":"c1"},{"col":28,"end":29,"level":"c0"},{"col":30,"end":31,"level":"c8"},{"col":32,"end":33,"level":"c10"},{"col":34,"end":35,"level":"c1"},{"col":36,"end":37,"level":"c10"},{"col":38,"end":39,"level":"c5"},{"col":40,"end":41,"level":"c1"},{"col":42,"end":43,"level":"c1"},{"col":44,"end":45,"level":"c0"},{"col":46,"end":47,"level":"c4"}
],
"extSlices":[
{"col":1,"slice":0,"level":"k16"},{"col":1,"slice":1,"level":"k16"},{"col":1,"slice":2,"level":"k16"},{"col":1,"slice":3,"level":"k16"},{"col":1,"slice":4,"level":"k16"},{"col":1,"slice":5,"level":"k12"},
{"col":2,"slice":0,"level":"k12"},{"col":2,"slice":1,"level":"k12"},{"col":2,"slice":2,"level":"k10"},{"col":2,"slice":3,"level":"k7"},{"col":2,"slice":4,"level":"k6"},{"col":2,"slice":5,"level":"k5"},
{"col":3,"slice":0,"level":"k4"},{"col":3,"slice":1,"level":"k3"},{"col":3,"slice":2,"level":"k3"},{"col":3,"slice":3,"level":"k2"},{"col":3,"slice":4,"level":"k1"},{"col":3,"slice":5,"level":"k1"},
{"col":6,"slice":0,"level":"k3"},{"col":6,"slice":1,"level":"k4"},{"col":6,"slice":2,"level":"k5"},{"col":6,"slice":3,"level":"k5"},{"col":6,"slice":4,"level":"k7"},{"col":6,"slice":5,"level":"k8"},
{"col":7,"slice":0,"level":"k12"},{"col":7,"slice":1,"level":"k12"},{"col":7,"slice":2,"level":"k12"},{"col":7,"slice":3,"level":"k14"},{"col":7,"slice":4,"level":"k16"},{"col":7,"slice":5,"level":"k16"},
{"col":9,"slice":0,"level":"k16"},{"col":9,"slice":1,"level":"k16"},{"col":9,"slice":2,"level":"k16"},{"col":9,"slice":3,"level":"k16"},{"col":9,"slice":4,"level":"k16"},{"col":9,"slice":5,"level":"k12"},
{"col":10,"slice":0,"level":"k12"},{"col":10,"slice":1,"level":"k12"},{"col":10,"slice":2,"level":"k10"},{"col":10,"slice":3,"level":"k7"},{"col":10,"slice":4,"level":"k6"},{"col":10,"slice":5,"level":"k5"},
{"col":11,"slice":0,"level":"k4"},{"col":11,"slice":1,"level":"k3"},{"col":11,"slice":2,"level":"k3"},{"col":11,"slice":3,"level":"k2"},{"col":11,"slice":4,"level":"k1"},{"col":11,"slice":5,"level":"k1"},
{"col":14,"slice":0,"level":"k3"},{"col":14,"slice":1,"level":"k4"},{"col":14,"slice":2,"level":"k5"},{"col":14,"slice":3,"level":"k6"},{"col":14,"slice":4,"level":"k7"},{"col":14,"slice":5,"level":"k8"},
{"col":15,"slice":0,"level":"k12"},{"col":15,"slice":1,"level":"k12"},{"col":15,"slice":2,"level":"k12"},{"col":15,"slice":3,"level":"k14"},{"col":15,"slice":4,"level":"k16"},{"col":15,"slice":5,"level":"k16"},
{"col":17,"slice":0,"level":"k16"},{"col":17,"slice":1,"level":"k16"},{"col":17,"slice":2,"level":"k16"},{"col":17,"slice":3,"level":"k16"},{"col":17,"slice":4,"level":"k16"},{"col":17,"slice":5,"level":"k12"},
{"col":18,"slice":0,"level":"k12"},{"col":18,"slice":1,"level":"k11"},{"col":18,"slice":2,"level":"k10"},{"col":18,"slice":3,"level":"k7"},{"col":18,"slice":4,"level":"k6"},{"col":18,"slice":5,"level":"k5"},
{"col":19,"slice":0,"level":"k4"},{"col":19,"slice":1,"level":"k3"},{"col":19,"slice":2,"level":"k3"},{"col":19,"slice":3,"level":"k2"},{"col":19,"slice":4,"level":"k1"},{"col":19,"slice":5,"level":"k1"},
{"col":22,"slice":0,"level":"k3"},{"col":22,"slice":1,"level":"k4"},{"col":22,"slice":2,"level":"k5"},{"col":22,"slice":3,"level":"k6"},{"col":22,"slice":4,"level":"k7"},{"col":22,"slice":5,"level":"k8"},
{"col":23,"slice":0,"level":"k12"},{"col":23,"slice":1,"level":"k12"},{"col":23,"slice":2,"level":"k14"},{"col":23,"slice":3,"level":"k15"},{"col":23,"slice":4,"level":"k16"},{"col":23,"slice":5,"level":"k16"},
{"col":25,"slice":0,"level":"k16"},{"col":25,"slice":1,"level":"k16"},{"col":25,"slice":2,"level":"k16"},{"col":25,"slice":3,"level":"k16"},{"col":25,"slice":4,"level":"k16"},{"col":25,"slice":5,"level":"k13"},
{"col":26,"slice":0,"level":"k12"},{"col":26,"slice":1,"level":"k11"},{"col":26,"slice":2,"level":"k10"},{"col":26,"slice":3,"level":"k7"},{"col":26,"slice":4,"level":"k6"},{"col":26,"slice":5,"level":"k5"},
{"col":27,"slice":0,"level":"k4"},{"col":27,"slice":1,"level":"k3"},{"col":27,"slice":2,"level":"k3"},{"col":27,"slice":3,"level":"k2"},{"col":27,"slice":4,"level":"k1"},{"col":27,"slice":5,"level":"k1"},
{"col":30,"slice":0,"level":"k3"},{"col":30,"slice":1,"level":"k4"},{"col":30,"slice":2,"level":"k5"},{"col":30,"slice":3,"level":"k6"},{"col":30,"slice":4,"level":"k7"},{"col":30,"slice":5,"level":"k9"},
{"col":31,"slice":0,"level":"k12"},{"col":31,"slice":1,"level":"k12"},{"col":31,"slice":2,"level":"k13"},{"col":31,"slice":3,"level":"k15"},{"col":31,"slice":4,"level":"k16"},{"col":31,"slice":5,"level":"k16"},
{"col":33,"slice":0,"level":"k16"},{"col":33,"slice":1,"level":"k16"},{"col":33,"slice":2,"level":"k16"},{"col":33,"slice":3,"level":"k16"},{"col":33,"slice":4,"level":"k15"},{"col":33,"slice":5,"level":"k13"},
{"col":34,"slice":0,"level":"k12"},{"col":34,"slice":1,"level":"k11"},{"col":34,"slice":2,"level":"k10"},{"col":34,"slice":3,"level":"k7"},{"col":34,"slice":4,"level":"k6"},{"col":34,"slice":5,"level":"k5"},
{"col":35,"slice":0,"level":"k4"},{"col":35,"slice":1,"level":"k3"},{"col":35,"slice":2,"level":"k3"},{"col":35,"slice":3,"level":"k2"},{"col":35,"slice":4,"level":"k1"},{"col":35,"slice":5,"level":"k1"},
{"col":38,"slice":0,"level":"k3"},{"col":38,"slice":1,"level":"k4"},{"col":38,"slice":2,"level":"k5"},{"col":38,"slice":3,"level":"k6"},{"col":38,"slice":4,"level":"k7"},{"col":38,"slice":5,"level":"k9"},
{"col":39,"slice":0,"level":"k12"},{"col":39,"slice":1,"level":"k12"},{"col":39,"slice":2,"level":"k13"},{"col":39,"slice":3,"level":"k15"},{"col":39,"slice":4,"level":"k16"},{"col":39,"slice":5,"level":"k16"},
{"col":41,"slice":0,"level":"k16"},{"col":41,"slice":1,"level":"k16"},{"col":41,"slice":2,"level":"k16"},{"col":41,"slice":3,"level":"k16"},{"col":41,"slice":4,"level":"k15"},{"col":41,"slice":5,"level":"k14"},
{"col":42,"slice":0,"level":"k12"},{"col":42,"slice":1,"level":"k11"},{"col":42,"slice":2,"level":"k10"},{"col":42,"slice":3,"level":"k7"},{"col":42,"slice":4,"level":"k6"},{"col":42,"slice":5,"level":"k5"},
{"col":43,"slice":0,"level":"k4"},{"col":43,"slice":1,"level":"k3"},{"col":43,"slice":2,"level":"k3"},{"col":43,"slice":3,"level":"k2"},{"col":43,"slice":4,"level":"k1"},{"col":43,"slice":5,"level":"k1"},
{"col":46,"slice":0,"level":"k3"},{"col":46,"slice":1,"level":"k4"},{"col":46,"slice":2,"level":"k5"},{"col":46,"slice":3,"level":"k6"},{"col":46,"slice":4,"level":"k7"},{"col":46,"slice":5,"level":"k10"},
{"col":47,"slice":0,"level":"k12"},{"col":47,"slice":1,"level":"k12"},{"col":47,"slice":2,"level":"k14"},{"col":47,"slice":3,"level":"k15"},{"col":47,"slice":4,"level":"k16"},{"col":47,"slice":5,"level":"k16"}
],
"hours":[
{"row":"ones","col":0,"digit":"1","day":"day8"},{"row":"ones","col":1,"digit":"2","day":"day8"},{"row":"ones","col":2,"digit":"3","day":"day8"},{"row":"ones","col":3,"digit":"4","day":"day8"},{"row":"ones","col":4,"digit":"5","day":"day8"},{"row":"ones","col":5,"digit":"6","day":"day8"},{"row":"ones","col":6,"digit":"7","day":"day8"},{"row":"ones","col":7,"digit":"8","day":"day8"},{"row":"ones","col":8,"digit":"9","day":"day8"},{"row":"ones","col":9,"digit":"0","day":"day8"},{"row":"ones","col":10,"digit":"1","day":"day8"},{"row":"ones","col":11,"digit":"2","day":"day8"},{"row":"ones","col":12,"digit":"3","day":"day8"},
{"row":"ones","col":13,"digit":"0","day":"day9"},{"row":"ones","col":14,"digit":"1","day":"day9"},{"row":"ones","col":15,"digit":"2","day":"day9"},{"row":"ones","col":16,"digit":"3","day":"day9"},{"row":"ones","col":17,"digit":"4","day":"day9"},{"row":"ones","col":18,"digit":"5","day":"day9"},{"row":"ones","col":19,"digit":"6","day":"day9"},{"row":"ones","col":20,"digit":"7","day":"day9"},{"row":"ones","col":21,"digit":"8","day":"day9"},{"row":"ones","col":22,"digit":"9","day":"day9"},{"row":"ones","col":23,"digit":"0","day":"day9"},{"row":"ones","col":24,"digit":"1","day":"day9"},{"row":"ones","col":25,"digit":"2","day":"day9"},{"row":"ones","col":26,"digit":"3","day":"day9"},{"row":"ones","col":27,"digit":"4","day":"day9"},{"row":"ones","col":28,"digit":"5","day":"day9"},{"row":"ones","col":29,"digit":"6","day":"day9"},{"row":"ones","col":30,"digit":"7","day":"day9"},{"row":"ones","col":31,"digit":"8","day":"day9"},{"row":"ones","col":32,"digit":"9","day":"day9"},{"row":"ones","col":33,"digit":"0","day":"day9"},{"row":"ones","col":34,"digit":"1","day":"day9"},{"row":"ones","col":35,"digit":"2","day":"day9"},{"row":"ones","col":36,"digit":"3","day":"day9"},
{"row":"ones","col":37,"digit":"0","day":"day10"},{"row":"ones","col":38,"digit":"1","day":"day10"},{"row":"ones","col":39,"digit":"2","day":"day10"},{"row":"ones","col":40,"digit":"3","day":"day10"},{"row":"ones","col":41,"digit":"4","day":"day10"},{"row":"ones","col":42,"digit":"5","day":"day10"},{"row":"ones","col":43,"digit":"6","day":"day10"},{"row":"ones","col":44,"digit":"7","day":"day10"},{"row":"ones","col":45,"digit":"8","day":"day10"},{"row":"ones","col":46,"digit":"9","day":"day10"},{"row":"ones","col":47,"digit":"0","day":"day10"},{"row":"ones","col":48,"digit":"1","day":"day10"},{"row":"ones","col":49,"digit":"2","day":"day10"},{"row":"ones","col":50,"digit":"3","day":"day10"},{"row":"ones","col":51,"digit":"4","day":"day10"},{"row":"ones","col":52,"digit":"5","day":"day10"},{"row":"ones","col":53,"digit":"6","day":"day10"},{"row":"ones","col":54,"digit":"7","day":"day10"},{"row":"ones","col":55,"digit":"8","day":"day10"},{"row":"ones","col":56,"digit":"9","day":"day10"},{"row":"ones","col":57,"digit":"0","day":"day10"},{"row":"ones","col":58,"digit":"1","day":"day10"},{"row":"ones","col":59,"digit":"2","day":"day10"},{"row":"ones","col":60,"digit":"3","day":"day10"},
{"row":"ones","col":61,"digit":"0","day":"day11"},{"row":"ones","col":62,"digit":"1","day":"day11"},{"row":"ones","col":63,"digit":"2","day":"day11"},{"row":"ones","col":64,"digit":"3","day":"day11"},{"row":"ones","col":65,"digit":"4","day":"day11"},{"row":"ones","col":66,"digit":"5","day":"day11"},{"row":"ones","col":67,"digit":"6","day":"day11"},{"row":"ones","col":68,"digit":"7","day":"day11"},{"row":"ones","col":69,"digit":"8","day":"day11"},{"row":"ones","col":70,"digit":"9","day":"day11"},{"row":"ones","col":71,"digit":"0","day":"day11"},{"row":"ones","col":72,"digit":"1","day":"day11"},{"row":"ones","col":73,"digit":"2","day":"day11"},{"row":"ones","col":74,"digit":"3","day":"day11"},{"row":"ones","col":75,"digit":"4","day":"day11"},{"row":"ones","col":76,"digit":"5","day":"day11"},{"row":"ones","col":77,"digit":"6","day":"day11"},{"row":"ones","col":78,"digit":"7","day":"day11"},{"row":"ones","col":79,"digit":"8","day":"day11"},{"row":"ones","col":80,"digit":"9","day":"day11"},{"row":"ones","col":81,"digit":"0","day":"day11"},
{"row":"tens","col":0,"digit":"1","day":"day8"},{"row":"tens","col":1,"digit":"1","day":"day8"},{"row":"tens","col":2,"digit":"1","day":"day8"},{"row":"tens","col":3,"digit":"1","day":"day8"},{"row":"tens","col":4,"digit":"1","day":"day8"},{"row":"tens","col":5,"digit":"1","day":"day8"},{"row":"tens","col":6,"digit":"1","day":"day8"},{"row":"tens","col":7,"digit":"1","day":"day8"},{"row":"tens","col":8,"digit":"1","day":"day8"},{"row":"tens","col":9,"digit":"2","day":"day8"},{"row":"tens","col":10,"digit":"2","day":"day8"},{"row":"tens","col":11,"digit":"2","day":"day8"},{"row":"tens","col":12,"digit":"2","day":"day8"},
{"row":"tens","col":23,"digit":"1","day":"day9"},{"row":"tens","col":24,"digit":"1","day":"day9"},{"row":"tens","col":25,"digit":"1","day":"day9"},{"row":"tens","col":26,"digit":"1","day":"day9"},{"row":"tens","col":27,"digit":"1","day":"day9"},{"row":"tens","col":28,"digit":"1","day":"day9"},{"row":"tens","col":29,"digit":"1","day":"day9"},{"row":"tens","col":30,"digit":"1","day":"day9"},{"row":"tens","col":31,"digit":"1","day":"day9"},{"row":"tens","col":32,"digit":"1","day":"day9"},{"row":"tens","col":33,"digit":"2","day":"day9"},{"row":"tens","col":34,"digit":"2","day":"day9"},{"row":"tens","col":35,"digit":"2","day":"day9"},{"row":"tens","col":36,"digit":"2","day":"day9"},
{"row":"tens","col":47,"digit":"1","day":"day10"},{"row":"tens","col":48,"digit":"1","day":"day10"},{"row":"tens","col":49,"digit":"1","day":"day10"},{"row":"tens","col":50,"digit":"1","day":"day10"},{"row":"tens","col":51,"digit":"1","day":"day10"},{"row":"tens","col":52,"digit":"1","day":"day10"},{"row":"tens","col":53,"digit":"1","day":"day10"},{"row":"tens","col":54,"digit":"1","day":"day10"},{"row":"tens","col":55,"digit":"1","day":"day10"},{"row":"tens","col":56,"digit":"1","day":"day10"},{"row":"tens","col":57,"digit":"2","day":"day10"},{"row":"tens","col":58,"digit":"2","day":"day10"},{"row":"tens","col":59,"digit":"2","day":"day10"},{"row":"tens","col":60,"digit":"2","day":"day10"},
{"row":"tens","col":71,"digit":"1","day":"day11"},{"row":"tens","col":72,"digit":"1","day":"day11"},{"row":"tens","col":73,"digit":"1","day":"day11"},{"row":"tens","col":74,"digit":"1","day":"day11"},{"row":"tens","col":75,"digit":"1","day":"day11"},{"row":"tens","col":76,"digit":"1","day":"day11"},{"row":"tens","col":77,"digit":"1","day":"day11"},{"row":"tens","col":78,"digit":"1","day":"day11"},{"row":"tens","col":79,"digit":"1","day":"day11"},{"row":"tens","col":80,"digit":"1","day":"day11"},{"row":"tens","col":81,"digit":"2","day":"day11"}
],
"extHours":[
{"row":"ones","col":0,"digit":"3","day":"day11"},{"row":"ones","col":1,"digit":"2","day":"day12"},{"row":"ones","col":2,"digit":"5","day":"day12"},{"row":"ones","col":3,"digit":"8","day":"day12"},{"row":"ones","col":4,"digit":"1","day":"day12"},{"row":"ones","col":5,"digit":"4","day":"day12"},{"row":"ones","col":6,"digit":"7","day":"day12"},{"row":"ones","col":7,"digit":"0","day":"day12"},{"row":"ones","col":8,"digit":"3","day":"day12"},
{"row":"ones","col":9,"digit":"2","day":"day13"},{"row":"ones","col":10,"digit":"5","day":"day13"},{"row":"ones","col":11,"digit":"8","day":"day13"},{"row":"ones","col":12,"digit":"1","day":"day13"},{"row":"ones","col":13,"digit":"4","day":"day13"},{"row":"ones","col":14,"digit":"7","day":"day13"},{"row":"ones","col":15,"digit":"0","day":"day13"},{"row":"ones","col":16,"digit":"3","day":"day13"},
{"row":"ones","col":17,"digit":"2","day":"day14"},{"row":"ones","col":18,"digit":"5","day":"day14"},{"row":"ones","col":19,"digit":"8","day":"day14"},{"row":"ones","col":20,"digit":"1","day":"day14"},{"row":"ones","col":21,"digit":"4","day":"day14"},{"row":"ones","col":22,"digit":"7","day":"day14"},{"row":"ones","col":23,"digit":"0","day":"day14"},{"row":"ones","col":24,"digit":"3","day":"day14"},
{"row":"ones","col":25,"digit":"2","day":"day15"},{"row":"ones","col":26,"digit":"5","day":"day15"},{"row":"ones","col":27,"digit":"8","day":"day15"},{"row":"ones","col":28,"digit":"1","day":"day15"},{"row":"ones","col":29,"digit":"4","day":"day15"},{"row":"ones","col":30,"digit":"7","day":"day15"},{"row":"ones","col":31,"digit":"0","day":"day15"},{"row":"ones","col":32,"digit":"3","day":"day15"},
{"row":"ones","col":33,"digit":"2","day":"day16"},{"row":"ones","col":34,"digit":"5","day":"day16"},{"row":"ones","col":35,"digit":"8","day":"day16"},{"row":"ones","col":36,"digit":"1","day":"day16"},{"row":"ones","col":37,"digit":"4","day":"day16"},{"row":"ones","col":38,"digit":"7","day":"day16"},{"row":"ones","col":39,"digit":"0","day":"day16"},{"row":"ones","col":40,"digit":"3","day":"day16"},
{"row":"ones","col":41,"digit":"2","day":"day17"},{"row":"ones","col":42,"digit":"5","day":"day17"},{"row":"ones","col":43,"digit":"8","day":"day17"},{"row":"ones","col":44,"digit":"1","day":"day17"},{"row":"ones","col":45,"digit":"4","day":"day17"},{"row":"ones","col":46,"digit":"7","day":"day17"},{"row":"ones","col":47,"digit":"0","day":"day17"},
{"row":"tens","col":0,"digit":"2","day":"day11"},{"row":"tens","col":4,"digit":"1","day":"day12"},{"row":"tens","col":5,"digit":"1","day":"day12"},{"row":"tens","col":6,"digit":"1","day":"day12"},{"row":"tens","col":7,"digit":"2","day":"day12"},{"row":"tens","col":8,"digit":"2","day":"day12"},
{"row":"tens","col":12,"digit":"1","day":"day13"},{"row":"tens","col":13,"digit":"1","day":"day13"},{"row":"tens","col":14,"digit":"1","day":"day13"},{"row":"tens","col":15,"digit":"2","day":"day13"},{"row":"tens","col":16,"digit":"2","day":"day13"},
{"row":"tens","col":20,"digit":"1","day":"day14"},{"row":"tens","col":21,"digit":"1","day":"day14"},{"row":"tens","col":22,"digit":"1","day":"day14"},{"row":"tens","col":23,"digit":"2","day":"day14"},{"row":"tens","col":24,"digit":"2","day":"day14"},
{"row":"tens","col":28,"digit":"1","day":"day15"},{"row":"tens","col":29,"digit":"1","day":"day15"},{"row":"tens","col":30,"digit":"1","day":"day15"},{"row":"tens","col":31,"digit":"2","day":"day15"},{"row":"tens","col":32,"digit":"2","day":"day15"},
{"row":"tens","col":36,"digit":"1","day":"day16"},{"row":"tens","col":37,"digit":"1","day":"day16"},{"row":"tens","col":38,"digit":"1","day":"day16"},{"row":"tens","col":39,"digit":"2","day":"day16"},{"row":"tens","col":40,"digit":"2","day":"day16"},
{"row":"tens","col":44,"digit":"1","day":"day17"},{"row":"tens","col":45,"digit":"1","day":"day17"},{"row":"tens","col":46,"digit":"1","day":"day17"},{"row":"tens","col":47,"digit":"2","day":"day17"}
]
},
"resolve":{"scale":{"y":"independent"}},
"layer":[
{"layer":[
{"data":{"name":"cells"},"mark":{"type":"rect"},"encoding":{
"x":{"field":"col","type":"ordinal","scale":{"type":"band","domain":[-10,-9,-8,-7,-6,-5,-4,-3,-2,-1,0,1,2,3,4,5,6,7,8,9,10,11,12,13,14,15,16,17,18,19,20,21,22,23,24,25,26,27,28,29,30,31,32,33,34,35,36,37,38,39,40,41,42,43,44,45,46,47,48,49,50,51,52,53,54,55,56,57,58,59,60,61,62,63,64,65,66,67,68,69,70,71,72,73,74,75,76,77,78,79,80,81],"range":[-140,1146],"paddingInner":0.142857,"paddingOuter":0}},
"y":{"field":"row","type":"nominal","scale":{"type":"band","domain":["cloud","ecmwf","transp","seeing","dark","gap1","gap2","smoke","wind","hum","temp"],"range":[77,249],"paddingInner":0.25,"paddingOuter":0}},
"color":{"field":"level","type":"nominal","scale":{"domain":["c0","c1","c2","c3","c4","c5","c6","c7","c8","c9","c10","hey","ham","hor","hro","hrd","hdr","hlg","hmt","haq","hst","hnb","hbl","t0","t1","t2","t3","k0","k1","k2","k3","k4","k5","k6","k7","k8","k9","k10","k11","k12","k13","k14","k15","k16","k17","white","dim","day8","day9","day10","day11","day12","day13","day14","day15","day16","day17"],"range":["#003f7f","#0f4f90","#2c6cab","#4b8dd2","#63a4e4","#78b8fa","#95d5d5","#b0eeee","#bebebe","#e8e8e8","#ffffff","#eaff10","#ffc800","#ff8800","#ff3300","#e80000","#b80000","#98ff68","#58ffb0","#10ffe8","#80c0c0","#78b0f0","#5090d8","#e00000","#ff2000","#ff5a00","#ffa000","#ffffff","#fffaf4","#fff4e6","#ffecd4","#ffe4c0","#ffd8a0","#ffc878","#ffb850","#f5a623","#40d8b0","#00f0f0","#00a0f0","#0060e0","#0040c0","#0018a0","#000e80","#000060","#00004c","#ffffff","#c8c832","#80ff80","#ffff00","#ff7070","#ff00ff","#7070ff","#80ff80","#ffff00","#ff7070","#ff00ff","#7070ff"]}}}},
{"data":{"name":"blocks"},"mark":{"type":"rect","height":6},"encoding":{"x":{"field":"col","type":"ordinal","bandPosition":0},"x2":{"field":"end","bandPosition":1},"y":{"field":"row","type":"nominal"},"color":{"field":"level","type":"nominal"}}},
{"data":{"name":"slices"},"mark":{"type":"rect"},"encoding":{"x":{"field":"col","type":"ordinal"},"xOffset":{"field":"slice","type":"ordinal","scale":{"paddingInner":0,"paddingOuter":0}},"y":{"datum":"dark"},"color":{"field":"level","type":"nominal"}}},
{"data":{"values":[{"col":13},{"col":37},{"col":61}]},"mark":{"type":"rule","strokeWidth":2,"color":"#ff0000"},"encoding":{"x":{"field":"col","type":"ordinal","bandPosition":0},"y":{"datum":"cloud","bandPosition":0},"y2":{"datum":"temp","bandPosition":1}}},
{"data":{"values":[{"panel":"Sky","col":-10,"end":-9}]},"mark":{"type":"rect","color":"#0060e0"},"encoding":{"x":{"field":"col","type":"ordinal","bandPosition":0.5},"x2":{"field":"end","bandPosition":0.333},"y":{"datum":"cloud","bandPosition":0},"y2":{"datum":"dark","bandPosition":1}}},
{"data":{"values":[{"panel":"Ground","col":-10,"end":-9}]},"mark":{"type":"rect","color":"#556600"},"encoding":{"x":{"field":"col","type":"ordinal","bandPosition":0.5},"x2":{"field":"end","bandPosition":0.333},"y":{"datum":"smoke","bandPosition":0},"y2":{"datum":"temp","bandPosition":1}}},
{"data":{"values":[{"text":"-- Sky --","col":-10,"row":"transp"}]},"mark":{"type":"text","angle":270,"align":"center","fontSize":11,"color":"#ffff00"},"encoding":{"x":{"field":"col","type":"ordinal","bandPosition":1},"y":{"field":"row","type":"nominal"},"text":{"field":"text"}}},
{"data":{"values":[{"text":"- Ground -","col":-10,"row":"wind"}]},"mark":{"type":"text","angle":270,"align":"center","fontSize":11,"color":"#ffffff"},"encoding":{"x":{"field":"col","type":"ordinal","bandPosition":1},"y":{"field":"row","type":"nominal","bandPosition":1.15},"text":{"field":"text"}}},
{"data":{"values":[{"label":"Cloud Cover:","row":"cloud","col":-9,"tone":"white"},{"label":"ECMWF Cloud:","row":"ecmwf","col":-9,"tone":"white"},{"label":"Transparency:","row":"transp","col":-9,"tone":"white"},{"label":"Seeing:","row":"seeing","col":-9,"tone":"white"},{"label":"Darkness:","row":"dark","col":-9,"tone":"dim"},{"label":"Smoke:","row":"smoke","col":-9,"tone":"white"},{"label":"Wind:","row":"wind","col":-9,"tone":"white"},{"label":"Humidity:","row":"hum","col":-9,"tone":"white"},{"label":"Temperature:","row":"temp","col":-9,"tone":"white"}]},"mark":{"type":"text","align":"left","dx":6,"dy":-1.5},"encoding":{"x":{"field":"col","type":"ordinal","bandPosition":0},"y":{"field":"row","type":"nominal"},"text":{"field":"label"},"color":{"field":"tone","type":"nominal"}}}
]},
{"layer":[
{"data":{"name":"extCells"},"mark":{"type":"rect"},"encoding":{"x":{"field":"col","type":"ordinal"},"y":{"field":"row","type":"nominal","scale":{"type":"band","domain":["cloud","ecmwf","dark"],"range":[337,381],"paddingInner":0.25,"paddingOuter":0}},"color":{"field":"level","type":"nominal"}}},
{"data":{"name":"extBlocks"},"mark":{"type":"rect","height":6},"encoding":{"x":{"field":"col","type":"ordinal","bandPosition":0},"x2":{"field":"end","bandPosition":1},"y":{"datum":"ecmwf"},"color":{"field":"level","type":"nominal"}}},
{"data":{"name":"extSlices"},"mark":{"type":"rect"},"encoding":{"x":{"field":"col","type":"ordinal"},"xOffset":{"field":"slice","type":"ordinal","scale":{"paddingInner":0,"paddingOuter":0}},"y":{"datum":"dark"},"color":{"field":"level","type":"nominal"}}},
{"data":{"values":[{"col":1},{"col":9},{"col":17},{"col":25},{"col":33},{"col":41}]},"mark":{"type":"rule","strokeWidth":2,"color":"#ff0000"},"encoding":{"x":{"field":"col","type":"ordinal","bandPosition":0},"y":{"datum":"cloud","bandPosition":0},"y2":{"datum":"dark","bandPosition":1}}},
{"data":{"values":[{"panel":"Sky","col":-10,"end":-9}]},"mark":{"type":"rect","color":"#0060e0"},"encoding":{"x":{"field":"col","type":"ordinal","bandPosition":0.5},"x2":{"field":"end","bandPosition":0.333},"y":{"datum":"cloud","bandPosition":0},"y2":{"datum":"dark","bandPosition":1}}},
{"data":{"values":[{"text":"- Sky -","col":-10,"row":"ecmwf"}]},"mark":{"type":"text","angle":270,"align":"center","fontSize":11,"color":"#ffff00"},"encoding":{"x":{"field":"col","type":"ordinal","bandPosition":1},"y":{"field":"row","type":"nominal"},"text":{"field":"text"}}},
{"data":{"values":[{"label":"Cloud Cover:","row":"cloud","col":-9,"tone":"white"},{"label":"ECMWF Cloud:","row":"ecmwf","col":-9,"tone":"white"},{"label":"Darkness:","row":"dark","col":-9,"tone":"dim"}]},"mark":{"type":"text","align":"left","dx":6,"dy":-1.5},"encoding":{"x":{"field":"col","type":"ordinal","bandPosition":0},"y":{"field":"row","type":"nominal"},"text":{"field":"label"},"color":{"field":"tone","type":"nominal"}}}
]},
{"layer":[
{"data":{"name":"hours"},"mark":{"type":"text","align":"center"},"encoding":{"x":{"field":"col","type":"ordinal"},"y":{"field":"row","type":"nominal","scale":{"type":"point","domain":["title","blank","day","tens","ones"],"range":[5,65],"padding":0}},"text":{"field":"digit"},"color":{"field":"day","type":"nominal"}}},
{"data":{"values":[{"label":"Saturday, 8","col":0,"day":"day8"},{"label":"Sunday, 9","col":23,"day":"day9"},{"label":"Monday, 10","col":47,"day":"day10"},{"label":"Tuesday, 11","col":71,"day":"day11"}]},"mark":{"type":"text","align":"left"},"encoding":{"x":{"field":"col","type":"ordinal","bandPosition":0},"y":{"datum":"day"},"text":{"field":"label"},"color":{"field":"day","type":"nominal"}}},
{"data":{"values":[{"label":"2026-08-08","col":-10,"row":"day","tone":"day8"},{"label":"Local Time","col":-10,"row":"tens","tone":"dim"}]},"mark":{"type":"text","align":"left","dx":8},"encoding":{"x":{"field":"col","type":"ordinal","bandPosition":0},"y":{"field":"row","type":"nominal"},"text":{"field":"label"},"color":{"field":"tone","type":"nominal"}}},
{"data":{"values":[{"label":"(GMT -4+0)","col":-10,"row":"ones"}]},"mark":{"type":"text","align":"left","dx":10,"dy":-3,"fontSize":8,"fontWeight":"bold","color":"#c8c832"},"encoding":{"x":{"field":"col","type":"ordinal","bandPosition":0},"y":{"field":"row","type":"nominal"},"text":{"field":"label"}}},
{"data":{"values":[{"label":"Talmage Observatory at Starfield","col":14,"row":"title"}]},"mark":{"type":"text","align":"left","dx":1,"dy":7,"fontSize":20,"fontWeight":"bold","color":"#ffff00"},"encoding":{"x":{"field":"col","type":"ordinal","bandPosition":0},"y":{"field":"row","type":"nominal"},"text":{"field":"label"}}},
{"data":{"values":[{"label":"Clear Sky Chart","col":46,"row":"title"}]},"mark":{"type":"text","align":"left","dx":-4,"dy":7,"fontSize":20,"fontWeight":"bold","color":"#00cccc"},"encoding":{"x":{"field":"col","type":"ordinal","bandPosition":0},"y":{"field":"row","type":"nominal"},"text":{"field":"label"}}}
]},
{"layer":[
{"data":{"name":"extHours"},"mark":{"type":"text","align":"center"},"encoding":{"x":{"field":"col","type":"ordinal"},"y":{"field":"row","type":"nominal","scale":{"type":"point","domain":["notice","blank","day","tens","ones"],"range":[265,325],"padding":0}},"text":{"field":"digit"},"color":{"field":"day","type":"nominal"}}},
{"data":{"values":[{"label":"Wed, 12","col":4,"day":"day12"},{"label":"Thu, 13","col":12,"day":"day13"},{"label":"Fri, 14","col":20,"day":"day14"},{"label":"Sat, 15","col":28,"day":"day15"},{"label":"Sun, 16","col":36,"day":"day16"},{"label":"Mon, 17","col":44,"day":"day17"}]},"mark":{"type":"text","align":"left","dx":-5},"encoding":{"x":{"field":"col","type":"ordinal","bandPosition":0},"y":{"datum":"day"},"text":{"field":"label"},"color":{"field":"day","type":"nominal"}}},
{"data":{"values":[{"label":"2026-08-11","col":-10,"row":"day","tone":"day11"},{"label":"Local Time","col":-10,"row":"tens","tone":"dim"}]},"mark":{"type":"text","align":"left","dx":8},"encoding":{"x":{"field":"col","type":"ordinal","bandPosition":0},"y":{"field":"row","type":"nominal"},"text":{"field":"label"},"color":{"field":"tone","type":"nominal"}}},
{"data":{"values":[{"label":"(GMT -4+0)","col":-10,"row":"ones"}]},"mark":{"type":"text","align":"left","dx":10,"dy":-3,"fontSize":8,"fontWeight":"bold","color":"#c8c832"},"encoding":{"x":{"field":"col","type":"ordinal","bandPosition":0},"y":{"field":"row","type":"nominal"},"text":{"field":"label"}}},
{"data":{"values":[{"label":"EXTENDED Forecast. Each block is 3 hours. (A sponsored feature)","col":-10,"row":"notice"}]},"mark":{"type":"text","align":"left","dx":6,"dy":11,"color":"#ee0000"},"encoding":{"x":{"field":"col","type":"ordinal","bandPosition":0},"y":{"field":"row","type":"nominal"},"text":{"field":"label"}}}
]},
{"layer":[
{"data":{"values":[{"part":"panel","col":46,"end":58}]},"mark":{"type":"rect","color":"#ffffff"},"encoding":{"x":{"field":"col","type":"ordinal","bandPosition":0.5},"x2":{"field":"end","bandPosition":0.33},"y":{"datum":"top","scale":{"type":"band","domain":["top","copy","bottom"],"range":[409,424],"paddingInner":0,"paddingOuter":0},"bandPosition":0},"y2":{"datum":"bottom","bandPosition":1}}},
{"data":{"values":[{"part":"flag","col":46,"end":48}]},"mark":{"type":"rect","color":"#ff0000"},"encoding":{"x":{"field":"col","type":"ordinal","bandPosition":0.5},"x2":{"field":"end","bandPosition":0.42},"y":{"datum":"top","bandPosition":0},"y2":{"datum":"bottom","bandPosition":1}}},
{"data":{"values":[{"part":"field","col":47,"end":47}]},"mark":{"type":"rect","color":"#ffffff"},"encoding":{"x":{"field":"col","type":"ordinal","bandPosition":0},"x2":{"field":"end","bandPosition":0.92},"y":{"datum":"top","bandPosition":0},"y2":{"datum":"bottom","bandPosition":1}}},
{"data":{"values":[{"part":"leaf","col":47,"row":"copy"}]},"mark":{"type":"point","filled":true,"opacity":1,"size":90,"color":"#ff0000","shape":"M0,-1 L0.2,-0.6 L0.45,-0.7 L0.35,-0.2 L0.7,-0.35 L0.6,-0.05 L1,0.1 L0.75,0.3 L0.85,0.5 L0.1,0.45 L0.1,0.95 L-0.1,0.95 L-0.1,0.45 L-0.85,0.5 L-0.75,0.3 L-1,0.1 L-0.6,-0.05 L-0.7,-0.35 L-0.35,-0.2 L-0.45,-0.7 L-0.2,-0.6 Z"},"encoding":{"x":{"field":"col","type":"ordinal","bandPosition":0.46},"y":{"field":"row","type":"nominal"}}},
{"data":{"values":[{"label":"Environment","col":49,"row":"top"}]},"mark":{"type":"text","align":"left","font":"Liberation Sans","fontSize":9,"dy":1.5,"color":"#000000"},"encoding":{"x":{"field":"col","type":"ordinal","bandPosition":0.33},"y":{"field":"row","type":"nominal"},"text":{"field":"label"}}},
{"data":{"values":[{"label":"Canada","col":49,"row":"bottom"}]},"mark":{"type":"text","align":"left","font":"Liberation Sans","fontSize":9,"dy":-2,"color":"#000000"},"encoding":{"x":{"field":"col","type":"ordinal","bandPosition":0.33},"y":{"field":"row","type":"nominal"},"text":{"field":"label"}}},
{"data":{"values":[{"label":"Environnement","col":54,"row":"top"}]},"mark":{"type":"text","align":"left","font":"Liberation Sans","fontSize":9,"dy":1.5,"color":"#000000"},"encoding":{"x":{"field":"col","type":"ordinal","bandPosition":0},"y":{"field":"row","type":"nominal"},"text":{"field":"label"}}},
{"data":{"values":[{"label":"Canada","col":54,"row":"bottom"}]},"mark":{"type":"text","align":"left","font":"Liberation Sans","fontSize":9,"dy":-2,"color":"#000000"},"encoding":{"x":{"field":"col","type":"ordinal","bandPosition":0},"y":{"field":"row","type":"nominal"},"text":{"field":"label"}}},
{"data":{"values":[{"label":"© 2026 Attilla Danko\u00a0\u00a0forecast: A.Rahill\u00a0\u00a0data:","col":14,"row":"copy"}]},"mark":{"type":"text","align":"left","dx":3,"dy":-1,"color":"#ffffff"},"encoding":{"x":{"field":"col","type":"ordinal","bandPosition":0},"y":{"field":"row","type":"nominal"},"text":{"field":"label"}}}
]}
]
}
